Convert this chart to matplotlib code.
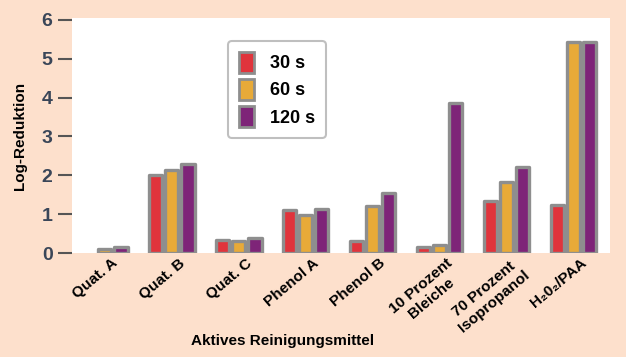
import numpy as np
import matplotlib
matplotlib.use("Agg")
import matplotlib.pyplot as plt
from matplotlib.patches import Patch

plt.rcParams['font.family'] = ['Liberation Sans', 'DejaVu Sans']

# data
categories = ['Quat. A', 'Quat. B', 'Quat. C', 'Phenol A', 'Phenol B',
              '10 Prozent\nBleiche', '70 Prozent\nIsopropanol', 'H\u20820\u2082/PAA']
series = ['30 s', '60 s', '120 s']
v30 = [0.0, 2.0, 0.35, 1.1, 0.3, 0.15, 1.33, 1.25]
v60 = [0.1, 2.15, 0.3, 0.98, 1.2, 0.22, 1.82, 5.43]
v120 = [0.15, 2.3, 0.4, 1.13, 1.55, 3.87, 2.22, 5.42]
yticks = [0, 1, 2, 3, 4, 5, 6]

colors = ['#e0343c', '#e8aa38', '#7e2478']  # rot, gold, lila
bg = '#fde0cc'
edge = '#8e8e8e'

fig = plt.figure(figsize=(6.26, 3.57), dpi=100, facecolor=bg)
ax = fig.add_axes([0.115, 0.291, 0.859, 0.659])
ax.set_facecolor('white')

x = np.arange(len(categories))
w = 0.2
step = 0.24
for i, (vals, c) in enumerate(zip([v30, v60, v120], colors)):
    bars = ax.bar(x + (i - 1) * step, vals, width=w, color=c, edgecolor=edge,
                  linewidth=2.4, zorder=3)
    for b, v in zip(bars, vals):
        b.set_joinstyle('round')
        if v <= 0:
            b.set_visible(False)

ax.set_xlim(-0.49, 7.54)
ax.set_ylim(0, 6.05)
for s in ax.spines.values():
    s.set_visible(False)

ax.set_yticks(yticks)
ax.set_yticklabels([str(t) for t in yticks], fontsize=14, fontweight='bold',
                   color='#3a4658')
ax.tick_params(axis='y', length=10, width=1.5, color='#555555', pad=4)
ax.tick_params(axis='x', length=0, pad=2)

ax.set_xticks(x + 0.1)
ax.set_xticklabels(categories, rotation=40, ha='right', rotation_mode='anchor',
                   fontsize=11, fontweight='bold', multialignment='center')

ax.set_ylabel('Log-Reduktion', fontsize=11, fontweight='bold')
ax.yaxis.set_label_coords(-0.083, 0.5)
fig.text(0.452, 0.045, 'Aktives Reinigungsmittel', ha='center', va='center',
         fontsize=11, fontweight='bold')

handles = [Patch(facecolor=c, edgecolor=edge, linewidth=2, joinstyle='round')
           for c in colors]
leg = ax.legend(handles, series, loc='upper left', bbox_to_anchor=(0.274, 0.94),
                frameon=True, prop={'size': 13, 'weight': 'bold'},
                handlelength=0.8, handleheight=1.4, labelspacing=0.35,
                borderpad=0.6, handletextpad=0.9, fancybox=True)
leg.get_frame().set_edgecolor('#b0b0b0')
leg.get_frame().set_linewidth(1.5)

fig.savefig('out.png', dpi=100, facecolor=bg)
